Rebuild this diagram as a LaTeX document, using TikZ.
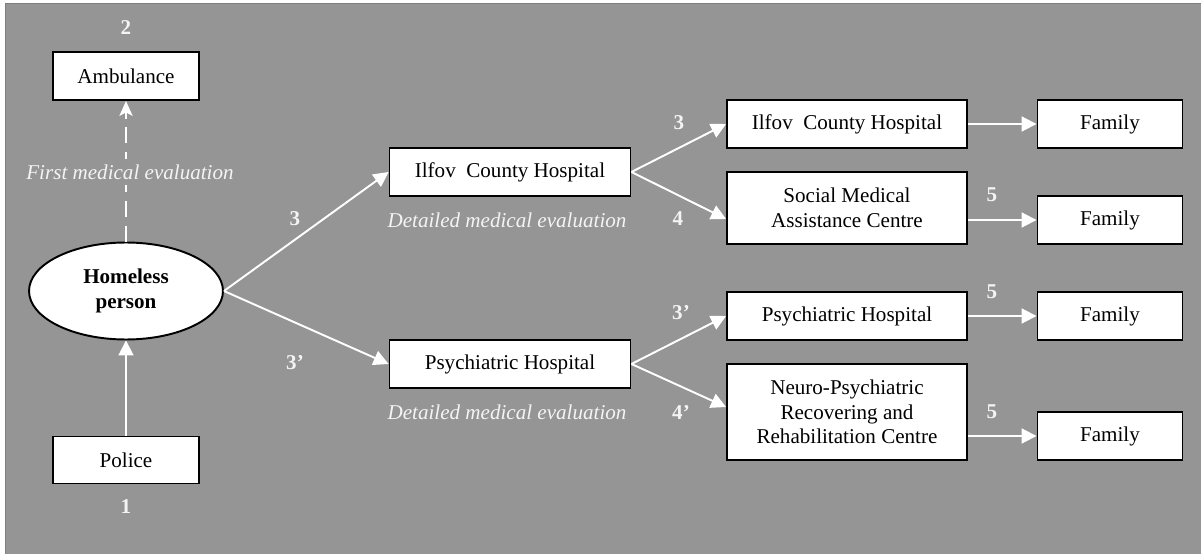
\documentclass[tikz,border=0pt]{standalone}
\usepackage{fontspec}
\setmainfont{Liberation Serif}
\usetikzlibrary{arrows.meta,shapes.geometric,calc}
\definecolor{bggray}{HTML}{959595}
\definecolor{edgegray}{HTML}{7E7E7E}
\definecolor{lbl}{HTML}{F4F4F4}
\tikzset{
  box/.style={draw=black,line width=1.1pt,fill=white,align=center,inner sep=1pt,font=\fontsize{12}{14}\selectfont},
  oval/.style={ellipse,draw=black,line width=1.1pt,fill=white,align=center,inner sep=0pt,minimum width=3.88cm,minimum height=1.94cm,font=\fontsize{12}{14}\selectfont\bfseries},
  num/.style={text=lbl,font=\fontsize{12}{14}\selectfont\bfseries,inner sep=1pt},
  note/.style={text=lbl,font=\fontsize{12}{14}\selectfont\itshape,inner sep=1pt},
  flow/.style={draw=white,line width=1.1pt,-{Triangle[length=8.5pt,width=8.5pt]}},
  dflow/.style={draw=white,line width=1.1pt,-{Stealth[length=8.5pt,width=7.5pt,inset=2pt]},dash pattern=on 9pt off 5pt}
}
\begin{document}
\begin{tikzpicture}[x=0.02cm,y=-0.02cm]
\useasboundingbox (0,0) rectangle (1201,554);
\fill[bggray] (5,3) rectangle (1201,554);
\draw[edgegray,line width=0.8pt] (1201,3.4) -- (5.4,3.4) -- (5.4,554);
% left column
\node[box,minimum width=2.92cm,minimum height=0.96cm] (amb) at (126,76) {Ambulance};
\node[oval] (hp) at (126,291) {Homeless\\person};
\node[box,minimum width=2.92cm,minimum height=0.94cm] (pol) at (126,460) {Police};
\node[num] (n2) at (126,28) {2};
\node[num] (n1) at (126,507) {1};
% middle column
\node[box,minimum width=4.82cm,minimum height=0.96cm] (ilfm) at (510,172) {Ilfov\ \ County Hospital};
\node[box,minimum width=4.82cm,minimum height=0.96cm] (psym) at (510,364) {Psychiatric Hospital};
\node[note] (dme1) at (507,220) {Detailed medical evaluation};
\node[note] (dme2) at (507,412) {Detailed medical evaluation};
% right column
\node[box,minimum width=4.80cm,minimum height=0.96cm] (ilfr) at (847,124) {Ilfov\ \ County Hospital};
\node[box,minimum width=4.80cm,minimum height=1.44cm] (smac) at (847,208) {Social Medical\\Assistance Centre};
\node[box,minimum width=4.80cm,minimum height=0.96cm] (psyr) at (847,316) {Psychiatric Hospital};
\node[box,minimum width=4.80cm,minimum height=1.92cm] (neuro) at (847,412) {Neuro-Psychiatric\\Recovering and\\Rehabilitation Centre};
% family column
\node[box,minimum width=2.90cm,minimum height=0.96cm] (fam1) at (1110,124) {Family};
\node[box,minimum width=2.90cm,minimum height=0.96cm] (fam2) at (1110,220) {Family};
\node[box,minimum width=2.90cm,minimum height=0.96cm] (fam3) at (1110,316) {Family};
\node[box,minimum width=2.90cm,minimum height=0.96cm] (fam4) at (1110,436) {Family};
% connectors
\draw[dflow] (hp.north) -- (amb.south);
\node[note,fill=bggray,inner sep=3pt] (fme) at (130,172) {First medical evaluation};
\draw[flow] (pol.north) -- (hp.south);
\draw[flow] (hp.east) -- (ilfm.west);
\draw[flow] (hp.east) -- (psym.west);
\draw[flow] (ilfm.east) -- (ilfr.west);
\draw[flow] (ilfm.east) -- ([yshift=-0.22cm]smac.west);
\draw[flow] (psym.east) -- (psyr.west);
\draw[flow] (psym.east) -- ([yshift=0.1cm]neuro.west);
\draw[flow] (ilfr.east) -- (fam1.west);
\draw[flow] (smac.east |- fam2.west) -- (fam2.west);
\draw[flow] (psyr.east) -- (fam3.west);
\draw[flow] (neuro.east |- fam4.west) -- (fam4.west);
% numbers
\node[num] (a3) at (295,219) {3};
\node[num] (a3p) at (295,363) {3’};
\node[num] (b3) at (679,123) {3};
\node[num] (b4) at (678,219) {4};
\node[num] (b3p) at (681,313) {3’};
\node[num] (b4p) at (681,412) {4’};
\node[num] (c5a) at (992,195) {5};
\node[num] (c5b) at (992,292) {5};
\node[num] (c5c) at (992,412) {5};
\end{tikzpicture}
\end{document}
